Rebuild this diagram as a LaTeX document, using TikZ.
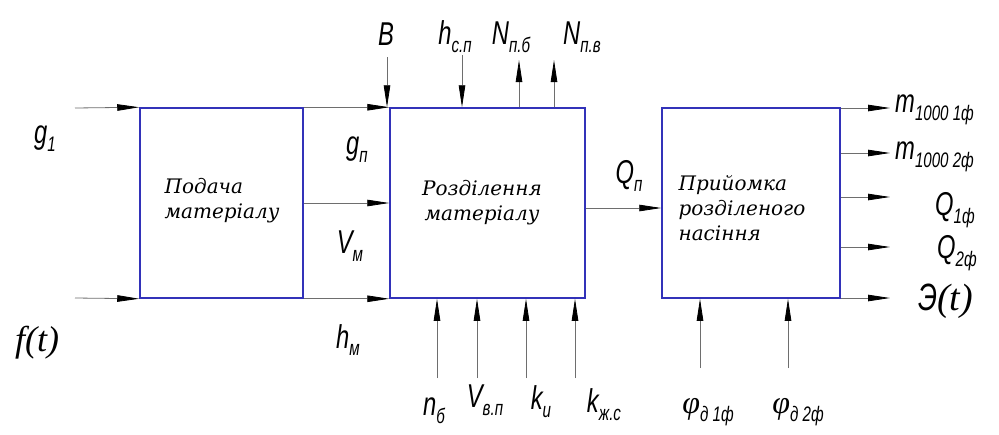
\documentclass[tikz,border=0pt]{standalone}
\usepackage{fontspec}
\setmainfont{Liberation Serif}
\newfontfamily\serifit{Liberation Serif}
\newfontfamily\boxfont{DejaVu Serif}
\newfontfamily\labfont{Liberation Sans}
\usetikzlibrary{arrows.meta,calc}
\definecolor{boxblue}{RGB}{50,50,185}
\definecolor{linegray}{RGB}{110,110,110}
\newcommand\nar[1]{\scalebox{0.72}[1]{#1}}
\newcommand\sbx[1]{\raisebox{-0.45ex}{\fontsize{21}{21}\selectfont #1}}
\begin{document}
\begin{tikzpicture}[x=1pt,y=-1pt,
  blk/.style={draw=boxblue,line width=1.5pt,fill=white,inner sep=0pt},
  arr/.style={draw=linegray,line width=0.8pt,-{Triangle[length=22pt,width=6.5pt,color=black]}},
  lab/.style={font=\labfont\itshape\fontsize{33}{33}\selectfont,inner sep=0pt},
  bt/.style={font=\boxfont\itshape\fontsize{20}{25}\selectfont,align=left,inner sep=0pt}]
\useasboundingbox[fill=white] (0,0) rectangle (999,434);
% blocks
\node[blk,minimum width=163pt,minimum height=190pt] (b1) at (221.5,203) {};
\node[blk,minimum width=195pt,minimum height=190pt] (b2) at (487.5,203) {};
\node[blk,minimum width=178pt,minimum height=190pt] (b3) at (751,203) {};
\node[bt] (t1) at (222,201) {Подача\\матеріалу};
\node[bt,align=center] (t2) at (482,203) {Розділення\\матеріалу};
\node[bt] (t3) at (742,208) {Прийомка\\розділеного\\насіння};
% inputs of block 1
\coordinate (ig1) at (75,108);
\coordinate (ift) at (75,298);
\draw[arr] (ig1) -- (b1.north west);
\draw[arr] (ift) -- (b1.south west);
% block 1 -> block 2
\draw[arr] (b1.north east) -- (b2.north west);
\draw[arr] (b1.east) -- (b2.west);
\draw[arr] (b1.south east) -- (b2.south west);
% top of block 2
\coordinate (cB) at (387,57);
\coordinate (chs) at (462,55);
\coordinate (cN1) at (519,60);
\coordinate (cN2) at (554,60);
\draw[arr] (cB) -- (cB |- b2.north);
\draw[arr] (chs) -- (chs |- b2.north);
\draw[arr] (cN1 |- b2.north) -- (cN1);
\draw[arr] (cN2 |- b2.north) -- (cN2);
% bottom of block 2
\coordinate (cn1) at (437,378);
\coordinate (cn2) at (477,378);
\coordinate (cn3) at (526,378);
\coordinate (cn4) at (575,378);
\foreach \c in {cn1,cn2,cn3,cn4} \draw[arr] (\c) -- (\c |- b2.south);
% block 2 -> block 3
\draw[arr] ([yshift=-5pt]b2.east) -- ([yshift=-5pt]b3.west);
% outputs of block 3
\coordinate (o1) at (890,108);
\coordinate (o2) at (890,153);
\coordinate (o3) at (890,197);
\coordinate (o4) at (890,247);
\coordinate (o5) at (890,298);
\foreach \c in {o1,o2,o3,o4,o5} \draw[arr] (\c -| b3.east) -- (\c);
% bottom of block 3
\coordinate (cp1) at (700,368);
\coordinate (cp2) at (788,368);
\foreach \c in {cp1,cp2} \draw[arr] (\c) -- (\c |- b3.south);
% labels
\node[lab] (lg1) at (45,139) {\nar{g\sbx{1}}};
\node[font=\serifit\itshape\fontsize{36}{36}\selectfont,inner sep=0pt] (lft) at (37,343) {f(t)};
\node[lab] (lgp) at (357,150) {\nar{g\sbx{п}}};
\node[lab] (lVm) at (350,246) {\nar{V\sbx{м}}};
\node[lab] (lhm) at (348,340) {\nar{h\sbx{м}}};
\node[lab] (lB) at (386,34) {\nar{B}};
\node[lab] (lhsp) at (455,37) {\nar{h\sbx{с.п}}};
\node[lab] (lN1) at (511,37) {\nar{N\sbx{п.б}}};
\node[lab] (lN2) at (582,37) {\nar{N\sbx{п.в}}};
\node[lab] (lQp) at (629,176) {\nar{Q\sbx{п}}};
\node[lab] (lnb) at (434,411) {\nar{n\sbx{б}}};
\node[lab] (lVv) at (485,400) {\nar{V\sbx{в.п}}};
\node[lab] (lku) at (541,402) {\nar{k\sbx{u}}};
\node[lab] (lkz) at (604,405) {\nar{k\sbx{ж.с}}};
\node[lab,anchor=west] (lm1) at (895,110) {\nar{m\sbx{1000 1ф}}};
\node[lab,anchor=west] (lm2) at (895,157) {\nar{m\sbx{1000 2ф}}};
\node[lab,anchor=west] (lQ1) at (935,210) {\nar{Q\sbx{1ф}}};
\node[lab,anchor=west] (lQ2) at (937,253) {\nar{Q\sbx{2ф}}};
\node[font=\serifit\itshape\fontsize{38}{38}\selectfont,inner sep=0pt,anchor=west] (lE) at (918,301) {{\labfont\nar{Э}}(t)};
\node[font=\serifit\itshape\fontsize{32}{32}\selectfont,inner sep=0pt] (lf1) at (708,412) {φ{\labfont\nar{\sbx{д 1ф}}}};
\node[font=\serifit\itshape\fontsize{32}{32}\selectfont,inner sep=0pt] (lf2) at (798,412) {φ{\labfont\nar{\sbx{д 2ф}}}};
\end{tikzpicture}
\end{document}
